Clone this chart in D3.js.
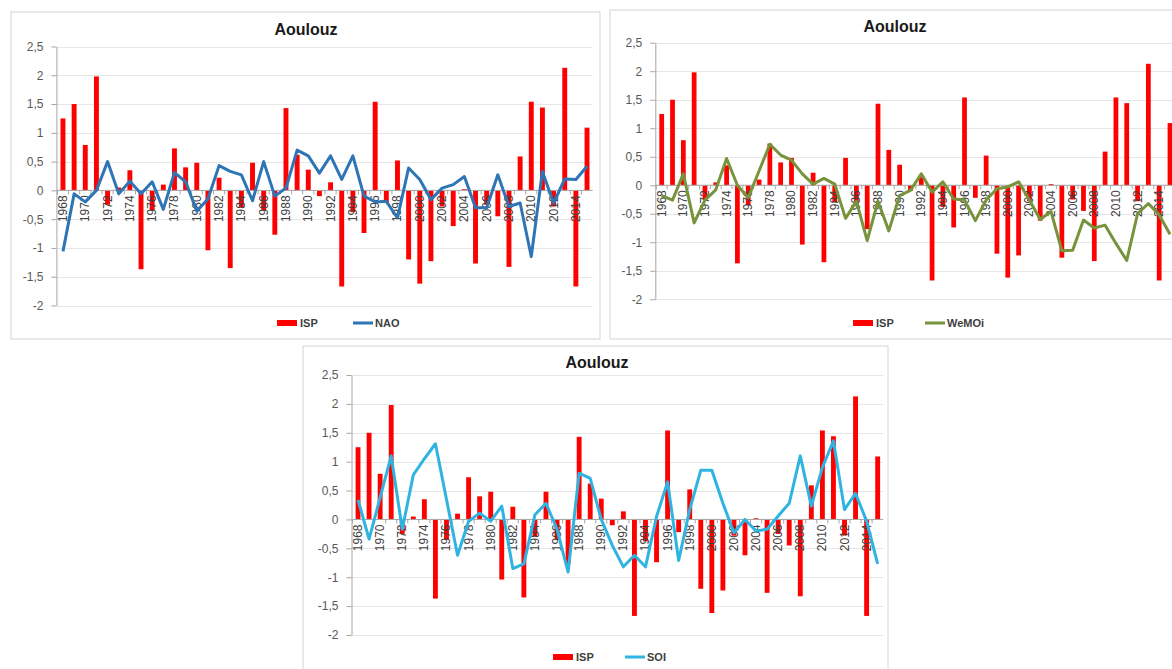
<!DOCTYPE html>
<html><head><meta charset="utf-8">
<script src="https://cdn.jsdelivr.net/npm/d3@7"></script>
<style>body{margin:0;background:#fff}svg{display:block}</style>
</head><body>
<svg id="c" width="1172" height="669"></svg>
<script>
const years = d3.range(1968, 2016);
const isp = [1.25,1.50,0.79,1.98,-0.25,0.05,0.35,-1.37,-0.35,0.10,0.73,0.40,0.48,-1.04,0.22,-1.35,-0.30,0.48,-0.35,-0.77,1.43,0.62,0.36,-0.10,0.14,-1.67,-0.38,-0.74,1.54,-0.22,0.52,-1.20,-1.62,-1.23,-0.28,-0.62,0.02,-1.27,-0.25,-0.45,-1.33,0.59,1.54,1.44,-0.28,2.13,-1.67,1.09];
const nao = [-1.06,-0.06,-0.20,0.00,0.50,-0.06,0.16,-0.06,0.15,-0.33,0.31,0.15,-0.36,-0.15,0.43,0.33,0.27,-0.18,0.50,-0.10,0.04,0.70,0.60,0.30,0.60,0.19,0.60,-0.10,-0.20,-0.19,-0.48,0.39,0.19,-0.16,0.04,0.10,0.24,-0.30,-0.30,0.27,-0.28,-0.22,-1.15,0.33,-0.22,0.20,0.19,0.42];
const wemoi = [-0.18,-0.26,0.20,-0.66,-0.26,-0.08,0.47,0.00,-0.22,0.25,0.72,0.53,0.44,0.20,0.02,0.12,0.02,-0.58,-0.28,-0.97,-0.28,-0.80,-0.18,-0.09,0.20,-0.12,0.06,-0.24,-0.26,-0.62,-0.26,-0.06,-0.03,0.06,-0.26,-0.60,-0.46,-1.15,-1.14,-0.61,-0.75,-0.70,-1.02,-1.32,-0.50,-0.32,-0.52,-0.86];
const soi = [0.34,-0.34,0.38,1.10,-0.17,0.77,1.05,1.31,0.35,-0.62,-0.03,0.11,-0.03,0.23,-0.85,-0.77,0.08,0.28,-0.17,-0.91,0.80,0.71,0.00,-0.45,-0.82,-0.62,-0.82,0.05,0.65,-0.71,0.17,0.85,0.85,0.28,-0.23,0.00,-0.20,-0.17,0.06,0.28,1.10,0.23,0.90,1.36,0.17,0.45,-0.03,-0.77];
const yTicks = [2.5,2,1.5,1,0.5,0,-0.5,-1,-1.5,-2];
const yearLabels = years.filter(y => (y - 1968) % 2 === 0);
const title = "Aoulouz";
const barName = "ISP";

const svg = d3.select("#c");
const fmt = v => String(v).replace(".", ",");

function panel(cfg){
  const g = svg.append("g");
  g.append("rect").attr("x", cfg.frame[0]).attr("y", cfg.frame[1])
    .attr("width", cfg.frame[2]).attr("height", cfg.frame[3])
    .attr("fill", "#fff").attr("stroke", "#d4d4d4").attr("stroke-width", 1);
  const x = d3.scaleBand().domain(years).range(cfg.xr).paddingInner(0.56).paddingOuter(0.28);
  const y = d3.scaleLinear().domain([-2, 2.5]).range(cfg.yr);
  const axX = cfg.xr[0] - 1;
  // grid
  g.selectAll(".grid").data(yTicks).join("line")
    .attr("x1", axX).attr("x2", cfg.xr[1]).attr("y1", d => Math.round(y(d)) + 0.5).attr("y2", d => Math.round(y(d)) + 0.5)
    .attr("stroke", "#e6e6e6").attr("stroke-width", 1);
  // y axis
  const ya = g.append("g").attr("transform", `translate(${axX},0)`)
    .call(d3.axisLeft(y).tickValues(yTicks).tickFormat(fmt).tickSize(5).tickSizeOuter(0).tickPadding(8));
  ya.select(".domain").attr("stroke", "#a6a6a6");
  ya.selectAll(".tick line").attr("stroke", "#a6a6a6");
  ya.selectAll("text").attr("fill", "#595959").style("font", "12px 'Liberation Sans', Arial, sans-serif");
  // bars
  g.selectAll(".bar").data(years).join("rect")
    .attr("x", d => x(d)).attr("width", x.bandwidth())
    .attr("y", (d, i) => y(Math.max(0, isp[i]))).attr("height", (d, i) => Math.abs(y(isp[i]) - y(0)))
    .attr("fill", "#ff0000");
  // x axis (zero line)
  const x0 = y(0);
  g.append("line").attr("x1", axX).attr("x2", cfg.xr[1]).attr("y1", x0).attr("y2", x0).attr("stroke", "#a6a6a6");
  g.selectAll(".xt").data(years).join("line")
    .attr("x1", d => x(d) - x.step() * 0.28).attr("x2", d => x(d) - x.step() * 0.28)
    .attr("y1", x0).attr("y2", x0 + 4).attr("stroke", "#a6a6a6");
  g.selectAll(".xl").data(yearLabels).join("text")
    .attr("transform", d => `translate(${x(d) + x.bandwidth()/2 + 4},${x0 + 5}) rotate(-90)`)
    .attr("text-anchor", "end").attr("fill", "#404040")
    .style("font", "12px 'Liberation Sans', Arial, sans-serif")
    .text(d => d);
  // line
  const line = d3.line().x((d, i) => x(years[i]) + x.bandwidth()/2).y(d => y(d));
  g.append("path").datum(cfg.series).attr("d", line)
    .attr("fill", "none").attr("stroke", cfg.color).attr("stroke-width", 3).attr("stroke-linejoin", "round");
  // title
  g.append("text").attr("x", cfg.title[0]).attr("y", cfg.title[1]).attr("text-anchor", "middle")
    .attr("fill", "#1a1a1a").style("font", "bold 16px 'Liberation Sans', Arial, sans-serif").text(title);
  // legend
  const L = cfg.legend;
  g.append("rect").attr("x", L[0]).attr("y", L[1] - 3).attr("width", 20).attr("height", 6).attr("fill", "#ff0000");
  g.append("text").attr("x", L[0] + 23).attr("y", L[1] + 4).attr("fill", "#404040")
    .style("font", "bold 11px 'Liberation Sans', Arial, sans-serif").text(barName);
  g.append("line").attr("x1", L[2]).attr("x2", L[2] + 20).attr("y1", L[1]).attr("y2", L[1])
    .attr("stroke", cfg.color).attr("stroke-width", 3);
  g.append("text").attr("x", L[2] + 22).attr("y", L[1] + 4).attr("fill", "#404040")
    .style("font", "bold 11px 'Liberation Sans', Arial, sans-serif").text(cfg.name);
}

panel({frame:[11,12,589,327], xr:[57.4,592.6], yr:[305.5,46.5], series:nao, name:"NAO", color:"#2e75b6", title:[306,35], legend:[277,323,353]});
panel({frame:[610,10,600,329], xr:[656.3,1175.4], yr:[299.3,42.7], series:wemoi, name:"WeMOi", color:"#77933c", title:[895,32], legend:[853,323,925]});
panel({frame:[303,346,585,340], xr:[352.5,883.2], yr:[635,375], series:soi, name:"SOI", color:"#2fb4e2", title:[597,368], legend:[553,657,625]});
</script>
</body></html>
